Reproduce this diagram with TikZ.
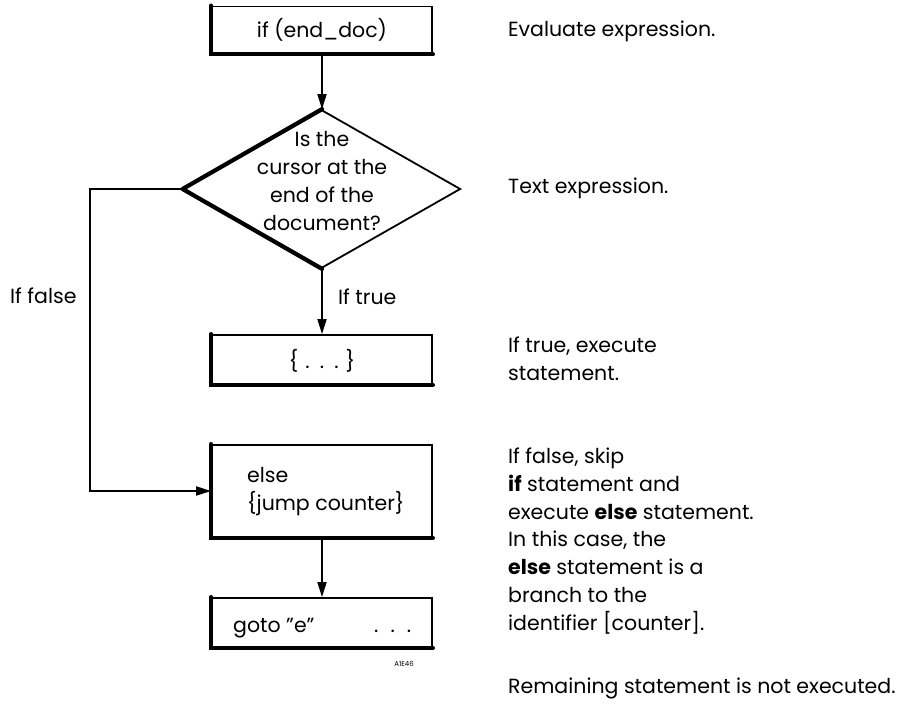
\documentclass[tikz,border=0pt]{standalone}
\usepackage{fontspec}
\setmainfont{Poppins}
\usetikzlibrary{shapes.geometric,arrows.meta}
\newcommand{\flowfont}{\fontsize{20.5}{27.7}\selectfont}
\begin{document}
\begin{tikzpicture}[x=1pt,y=-1pt,
  thin line/.style={line width=1.8pt},
  heavy line/.style={line width=4.2pt},
  stepbox/.style={draw,thin line,minimum width=220pt,inner sep=0pt},
  flow/.style={thin line,-{Triangle[length=15pt,width=9pt]}},
  note/.style={anchor=base west,align=left,inner sep=0pt,font=\flowfont},
  lbl/.style={anchor=base west,inner sep=0pt,font=\flowfont}]
\useasboundingbox (0,0) rectangle (906,706);

% boxes of the flow
\node[stepbox,minimum height=47pt] (cond) at (322,30) {};
\node[stepbox,minimum height=49pt] (body) at (322,359.5) {};
\node[stepbox,minimum height=92pt] (elsebox) at (322,491) {};
\node[stepbox,minimum height=49pt] (gotobox) at (322,622.5) {};
\node[draw,thin line,diamond,minimum width=277pt,minimum height=158pt,inner sep=0pt] (test) at (322,189) {};

% shadowed left and bottom edges
\foreach \b in {cond,body,elsebox,gotobox}
  \draw[heavy line,line cap=round] (\b.north west) -- (\b.south west) -- (\b.south east);
\draw[heavy line,line cap=round,line join=round] (test.north) -- (test.west) -- (test.south);

% texts inside the boxes (multi-line nodes sit on their last baseline)
\node[font=\flowfont,anchor=base,inner sep=0pt] (condtxt) at (322,38) {if (end\_doc)};
\node[font=\flowfont,anchor=base,inner sep=0pt] (bodytxt) at (322,368) {\{\,\,.\,\,\,.\,\,\,.\,\,\}};
\node[note] (elsetxt) at (247,510) {else\\\{jump counter\}};
\node[lbl] (gototxt) at (233,632) {goto ''e''};
\node[lbl] (gotodots) at (374,632) {.\hspace{12pt}.\hspace{12pt}.};
\node[font=\flowfont,align=center,anchor=base,inner sep=0pt] (testtxt) at (322,230) {Is the\\cursor at the\\end of the\\document?};

% connectors
\draw[flow] (cond.south) -- (test.north);
\draw[flow] (test.south) -- (body.north);
\node[lbl] (truetxt) at (338,304) {If true};
\coordinate (fa) at (90,189);
\coordinate (fb) at (90,491);
\draw[flow] (test.west) -- (fa) -- (fb) -- (elsebox.west);
\node[lbl] (falsetxt) at (10,303) {If false};
\draw[flow] (elsebox.south) -- (gotobox.north);

% figure tag
\node[font=\fontsize{7}{8}\selectfont,anchor=base,inner sep=0pt] (tag) at (404,666) {A1E46};

% explanations
\node[lbl] (n1) at (508,37) {Evaluate expression.};
\node[lbl] (n2) at (508,194) {Text expression.};
\node[note] (n3) at (508,380) {If true, execute\\statement.};
\node[note] (n4) at (508,630) {If false, skip\\\textbf{if} statement and\\execute \textbf{else} statement.\\In this case, the\\\textbf{else} statement is a\\branch to the\\identifier [counter].};
\node[lbl] (n5) at (508,693) {Remaining statement is not executed.};
\end{tikzpicture}
\end{document}
